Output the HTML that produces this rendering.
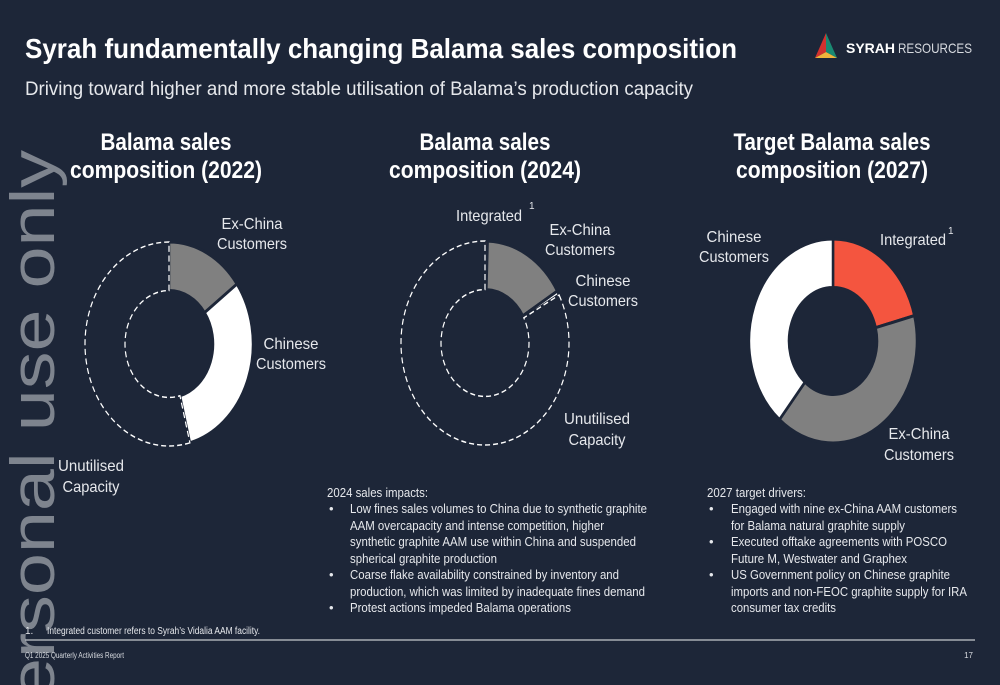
<!DOCTYPE html>
<html><head><meta charset="utf-8">
<style>
html,body{margin:0;padding:0;background:#1d2638;}
svg{display:block;font-family:"Liberation Sans",sans-serif;}
.lbl{fill:#e6e8ec;font-size:16px;text-anchor:middle;}
.bt{fill:#e6e8ec;font-size:13px;}
.ct{fill:#ffffff;font-size:24px;font-weight:bold;text-anchor:middle;}
</style></head>
<body>
<svg id="svg" width="1000" height="685" viewBox="0 0 1000 685">
<rect width="1000" height="685" fill="#1d2638"/>
<text x="54" y="150" transform="rotate(-90 54 150)" text-anchor="end" font-size="62" fill="#7e848e" textLength="550" lengthAdjust="spacingAndGlyphs">ersonal use only</text>
<text x="25" y="58" font-size="28" font-weight="bold" fill="#fff" textLength="712" lengthAdjust="spacingAndGlyphs">Syrah fundamentally changing Balama sales composition</text>
<text x="25" y="95" font-size="19" fill="#e6e8ec" textLength="668" lengthAdjust="spacingAndGlyphs">Driving toward higher and more stable utilisation of Balama’s production capacity</text>
<g>
<polygon points="826,33 815,58 826,52" fill="#d2312e"/>
<polygon points="826,33 837,58 826,52" fill="#1a8a72"/>
<polygon points="815,58 837,58 826,52" fill="#f0b43c"/>
<text x="846" y="53" font-size="14" fill="#fff" font-weight="bold">SYRAH</text>
<text x="898" y="53" font-size="14" fill="#d8dbe0" textLength="74" lengthAdjust="spacingAndGlyphs">RESOURCES</text>
</g>
<text class="ct" x="166" y="150" textLength="131" lengthAdjust="spacingAndGlyphs">Balama sales</text>
<text class="ct" x="166" y="178" textLength="192" lengthAdjust="spacingAndGlyphs">composition (2022)</text>
<text class="ct" x="485" y="150" textLength="131" lengthAdjust="spacingAndGlyphs">Balama sales</text>
<text class="ct" x="485" y="178" textLength="192" lengthAdjust="spacingAndGlyphs">composition (2024)</text>
<text class="ct" x="832" y="150" textLength="197" lengthAdjust="spacingAndGlyphs">Target Balama sales</text>
<text class="ct" x="832" y="178" textLength="192" lengthAdjust="spacingAndGlyphs">composition (2027)</text>
<g id="charts"></g>
<text class="lbl" x="252" y="229">Ex-China</text>
<text class="lbl" x="252" y="249">Customers</text>
<text class="lbl" x="291" y="349">Chinese</text>
<text class="lbl" x="291" y="369">Customers</text>
<text class="lbl" x="91" y="471">Unutilised</text>
<text class="lbl" x="91" y="492">Capacity</text>
<text class="lbl" x="489" y="221">Integrated</text>
<text x="529" y="209" font-size="10" fill="#e6e8ec">1</text>
<text class="lbl" x="580" y="235">Ex-China</text>
<text class="lbl" x="580" y="255">Customers</text>
<text class="lbl" x="603" y="286">Chinese</text>
<text class="lbl" x="603" y="306">Customers</text>
<text class="lbl" x="597" y="424">Unutilised</text>
<text class="lbl" x="597" y="445">Capacity</text>
<text class="lbl" x="734" y="242">Chinese</text>
<text class="lbl" x="734" y="262">Customers</text>
<text class="lbl" x="913" y="245">Integrated</text>
<text x="948" y="234" font-size="10" fill="#e6e8ec">1</text>
<text class="lbl" x="919" y="439">Ex-China</text>
<text class="lbl" x="919" y="460">Customers</text>
<g>
<text class="bt" x="327" y="497" textLength="101" lengthAdjust="spacingAndGlyphs">2024 sales impacts:</text>
<text class="bt" x="329" y="513">•</text>
<text class="bt" x="350" y="513" textLength="297" lengthAdjust="spacingAndGlyphs">Low fines sales volumes to China due to synthetic graphite</text>
<text class="bt" x="350" y="530" textLength="254" lengthAdjust="spacingAndGlyphs">AAM overcapacity and intense competition, higher</text>
<text class="bt" x="350" y="546" textLength="286" lengthAdjust="spacingAndGlyphs">synthetic graphite AAM use within China and suspended</text>
<text class="bt" x="350" y="563" textLength="147" lengthAdjust="spacingAndGlyphs">spherical graphite production</text>
<text class="bt" x="329" y="579">•</text>
<text class="bt" x="350" y="579" textLength="269" lengthAdjust="spacingAndGlyphs">Coarse flake availability constrained by inventory and</text>
<text class="bt" x="350" y="596" textLength="295" lengthAdjust="spacingAndGlyphs">production, which was limited by inadequate fines demand</text>
<text class="bt" x="329" y="612">•</text>
<text class="bt" x="350" y="612" textLength="221" lengthAdjust="spacingAndGlyphs">Protest actions impeded Balama operations</text>
</g>
<g>
<text class="bt" x="707" y="497" textLength="99" lengthAdjust="spacingAndGlyphs">2027 target drivers:</text>
<text class="bt" x="709" y="513">•</text>
<text class="bt" x="731" y="513" textLength="226" lengthAdjust="spacingAndGlyphs">Engaged with nine ex-China AAM customers</text>
<text class="bt" x="731" y="530" textLength="174" lengthAdjust="spacingAndGlyphs">for Balama natural graphite supply</text>
<text class="bt" x="709" y="546">•</text>
<text class="bt" x="731" y="546" textLength="216" lengthAdjust="spacingAndGlyphs">Executed offtake agreements with POSCO</text>
<text class="bt" x="731" y="563" textLength="176" lengthAdjust="spacingAndGlyphs">Future M, Westwater and Graphex</text>
<text class="bt" x="709" y="579">•</text>
<text class="bt" x="731" y="579" textLength="219" lengthAdjust="spacingAndGlyphs">US Government policy on Chinese graphite</text>
<text class="bt" x="731" y="596" textLength="236" lengthAdjust="spacingAndGlyphs">imports and non-FEOC graphite supply for IRA</text>
<text class="bt" x="731" y="612" textLength="105" lengthAdjust="spacingAndGlyphs">consumer tax credits</text>
</g>
<text x="25" y="634" font-size="10" fill="#e6e8ec">1.</text>
<text x="47" y="634" font-size="10" fill="#e6e8ec" textLength="213" lengthAdjust="spacingAndGlyphs">Integrated customer refers to Syrah’s Vidalia AAM facility.</text>
<line x1="25" y1="640" x2="975" y2="640" stroke="#a9adb4" stroke-width="1.5"/>
<text x="25" y="658" font-size="8" fill="#d8dbe0" textLength="99" lengthAdjust="spacingAndGlyphs">Q1 2025 Quarterly Activities Report</text>
<text x="973" y="658" font-size="8" fill="#d8dbe0" text-anchor="end">17</text>
</svg>
<script>
// chart data (percent of capacity), order clockwise from top
const cats2022 = ["Ex-China Customers","Chinese Customers","Unutilised Capacity"];
const vals2022 = [15, 31, 54];
const cats2024 = ["Integrated","Ex-China Customers","Chinese Customers","Unutilised Capacity"];
const vals2024 = [0.5, 16, 0.7, 82.8];
const cats2027 = ["Integrated","Ex-China Customers","Chinese Customers"];
const vals2027 = [21, 40, 39];

// condense label widths to match reference typeface
const labelWidths = {"Ex-China":61,"Customers":70,"Chinese":55,"Unutilised":66,"Capacity":57,"Integrated":66};
document.querySelectorAll('.lbl').forEach(t=>{
  const w = labelWidths[t.textContent];
  if (w) { t.setAttribute('textLength', w); t.setAttribute('lengthAdjust','spacingAndGlyphs'); }
});

const NS = "http://www.w3.org/2000/svg";
const colorMap = {"Integrated":"#f4553f","Ex-China Customers":"#808080","Chinese Customers":"#ffffff","Unutilised Capacity":"none"};
const RO = 84, RI = 44, SY = 102/84;
function pt(r, frac){ const a = frac*2*Math.PI; return [r*Math.sin(a), -r*Math.cos(a)]; }
function arcPath(f0, f1){
  const large = (f1-f0) > 0.5 ? 1 : 0;
  const [x0,y0]=pt(RO,f0),[x1,y1]=pt(RO,f1),[x2,y2]=pt(RI,f1),[x3,y3]=pt(RI,f0);
  return `M${x0},${y0} A${RO},${RO} 0 ${large} 1 ${x1},${y1} L${x2},${y2} A${RI},${RI} 0 ${large} 0 ${x3},${y3} Z`;
}
function donut(cx, cy, cats, vals, name){
  const g = document.createElementNS(NS,"g");
  g.setAttribute("transform", `translate(${cx},${cy}) scale(1,${SY})`);
  
  
  const total = vals.reduce((a,b)=>a+b,0);
  let acc = 0;
  cats.forEach((c,i)=>{
    const f0 = acc/total; acc += vals[i]; const f1 = acc/total;
    const p = document.createElementNS(NS,"path");
    p.setAttribute("d", arcPath(f0,f1));
    const col = colorMap[c];
    if (col === "none") {
      p.setAttribute("fill","none");
      p.setAttribute("stroke","#ffffff");
      p.setAttribute("stroke-width","1.2");
      p.setAttribute("stroke-dasharray","5 3");
    } else {
      p.setAttribute("fill", col);
      p.setAttribute("stroke","#1d2638");
      p.setAttribute("stroke-width","2.5");
    }
    
    
    g.appendChild(p);
  });
  document.getElementById("charts").appendChild(g);
}
donut(169, 344, cats2022, vals2022, 'donut-2022');
donut(485, 343, cats2024, vals2024, 'donut-2024');
donut(833, 341, cats2027, vals2027, 'donut-2027');
</script>
</body></html>
